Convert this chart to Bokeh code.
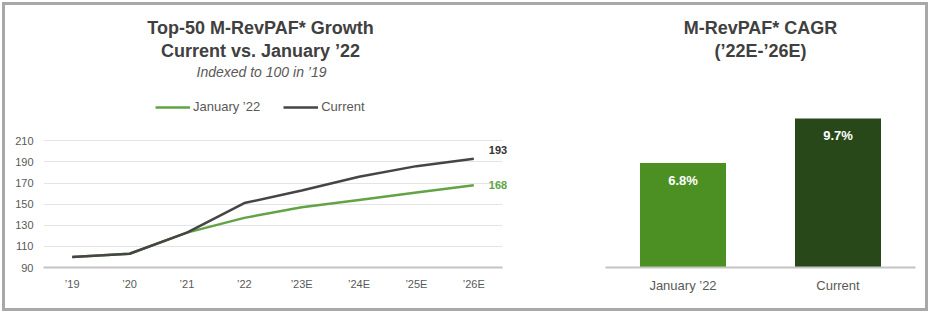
from bokeh.plotting import figure
from bokeh.models import (ColumnDataSource, Label, LabelSet, Legend, LegendItem, Range1d,
                          BoxAnnotation)
from bokeh.core.properties import value
from bokeh.layouts import row
from bokeh.embed import file_html
from bokeh.resources import INLINE

# ---------------- data ----------------
years = ["’19", "’20", "’21", "’22", "’23E", "’24E", "’25E", "’26E"]
january_22 = [100, 103, 123, 137, 147, 154, 161, 168]
current = [100, 103, 123, 151, 163, 176, 186, 193]
y_ticks = [90, 110, 130, 150, 170, 190, 210]

cagr_cats = ["January ’22", "Current"]
cagr_vals = [6.8, 9.7]
cagr_labels = ["6.8%", "9.7%"]

# ---------------- styles ----------------
FONT = "Liberation Sans"
GREEN_LINE = "#62A345"
GRAY_LINE = "#454545"
BAR_COLORS = ["#4C8F23", "#28481A"]
TITLE_C = "#404040"
TEXT_C = "#595959"

# page geometry (px) of the plotting frames
FRAME_TOP, FRAME_BOT = 8, 267
L_X0, L_UNIT = 43, 57.375          # left frame start, px per year
L_KY = (FRAME_BOT - 140.3) / (y_ticks[-1] - y_ticks[0])   # px per index point
R_X0, R_X1, R_KY = 605, 915, 15.35  # right frame, px per CAGR point

def lx(px):
    return -0.5 + (px - L_X0) / L_UNIT

def ly(py):
    return y_ticks[0] + (FRAME_BOT - py) / L_KY

def rx(px):
    return (px - R_X0) / (R_X1 - R_X0) * len(cagr_cats)

def ry(py):
    return (FRAME_BOT - py) / R_KY

# ---------------- left: line chart ----------------
x_idx = list(range(len(years)))
p1 = figure(width=555, height=303,
            x_range=Range1d(-0.5, lx(540)), y_range=Range1d(y_ticks[0], ly(FRAME_TOP)),
            output_backend="svg", toolbar_location=None, title=None,
            min_border_left=38, min_border_right=20, min_border_top=3, min_border_bottom=41)
p1.outline_line_color = None
p1.border_fill_color = "white"
p1.xgrid.grid_line_color = None
p1.ygrid.grid_line_color = "#e4e4e4"
p1.ygrid.grid_line_width = 1
p1.yaxis.ticker = y_ticks
p1.yaxis.axis_line_color = None
p1.xaxis.ticker = x_idx
p1.xaxis.major_label_overrides = {i: y for i, y in zip(x_idx, years)}
p1.xaxis.bounds = (-0.5, len(years) - 0.5)
p1.xaxis.axis_line_color = "#c4c4c4"
p1.xaxis.axis_line_width = 2
for ax in (p1.xaxis[0], p1.yaxis[0]):
    ax.major_tick_line_color = None
    ax.minor_tick_line_color = None
    ax.major_tick_out = 0
    ax.major_tick_in = 0
    ax.minor_tick_out = 0
    ax.major_label_standoff = 10
    ax.major_label_text_font = FONT
    ax.major_label_text_font_size = "11px"
    ax.major_label_text_color = TEXT_C

# mask the grid lines to the right of the last category
p1.add_layout(BoxAnnotation(left=len(years) - 0.5, fill_color="white", fill_alpha=1.0,
                            line_color=None, level="underlay"))

src = ColumnDataSource(dict(x=x_idx, jan=january_22, cur=current))
r_jan = p1.line(x="x", y="jan", source=src, line_color=GREEN_LINE, line_width=2.5)
r_cur = p1.line(x="x", y="cur", source=src, line_color=GRAY_LINE, line_width=2.5)

legend = Legend(items=[LegendItem(label="January ’22", renderers=[r_jan]),
                       LegendItem(label="Current", renderers=[r_cur])],
                orientation="horizontal", location=(112, 153),
                glyph_width=35, glyph_height=14, label_standoff=3, spacing=23,
                padding=0, margin=0, border_line_color=None, background_fill_alpha=0,
                label_text_font=FONT, label_text_font_size="13px", label_text_color=TEXT_C)
p1.add_layout(legend)

end_src = ColumnDataSource(dict(x=[x_idx[-1], x_idx[-1]],
                                y=[january_22[-1], current[-1]],
                                text=[str(january_22[-1]), str(current[-1])],
                                color=[GREEN_LINE, "#333333"],
                                yoff=[0, 9]))
p1.add_layout(LabelSet(x="x", y="y", text="text", source=end_src, x_offset=15, y_offset="yoff",
                       text_color="color", text_font=value(FONT), text_font_size="11px",
                       text_font_style="bold", text_baseline="middle", text_align="left"))

def heading(p, x, y, text, size, style, color):
    p.add_layout(Label(x=x, y=y, text=text, text_align="center", text_baseline="middle",
                       text_font=FONT, text_font_size=size, text_font_style=style,
                       text_color=color))

heading(p1, lx(260), ly(27), "Top-50 M-RevPAF* Growth", "18px", "bold", TITLE_C)
heading(p1, lx(260), ly(50), "Current vs. January ’22", "18px", "bold", TITLE_C)
heading(p1, lx(261), ly(71), "Indexed to 100 in ’19", "14px", "italic", TEXT_C)

# ---------------- right: bar chart ----------------
p2 = figure(width=365, height=303, x_range=cagr_cats, y_range=Range1d(0, ry(FRAME_TOP)),
            output_backend="svg", toolbar_location=None, title=None, y_axis_location=None,
            min_border_left=45, min_border_right=10, min_border_top=3, min_border_bottom=41)
p2.outline_line_color = None
p2.grid.grid_line_color = None
p2.border_fill_color = "white"
ax2 = p2.xaxis[0]
ax2.axis_line_color = "#c4c4c4"
ax2.axis_line_width = 2
ax2.major_tick_line_color = None
ax2.minor_tick_line_color = None
ax2.major_tick_out = 0
ax2.major_tick_in = 0
ax2.major_label_standoff = 10
ax2.major_label_text_font = FONT
ax2.major_label_text_font_size = "13px"
ax2.major_label_text_color = TEXT_C

bar_src = ColumnDataSource(dict(cat=cagr_cats, val=cagr_vals, lab=cagr_labels, color=BAR_COLORS))
p2.vbar(x="cat", top="val", width=0.555, source=bar_src, fill_color="color", line_color=None)
p2.add_layout(LabelSet(x="cat", y="val", text="lab", source=bar_src, y_offset=-17,
                       text_color="white", text_font=value(FONT), text_font_size="13px",
                       text_font_style="bold", text_align="center", text_baseline="middle"))

heading(p2, rx(760), ry(27), "M-RevPAF* CAGR", "18px", "bold", TITLE_C)
heading(p2, rx(760), ry(50), "(’22E-’26E)", "18px", "bold", TITLE_C)

layout = row(p1, p2, styles={"border": "3px solid #a8a8a8", "margin": "2px 0 0 2px"})

with open("out.html", "w") as f:
    f.write(file_html(layout, INLINE))
